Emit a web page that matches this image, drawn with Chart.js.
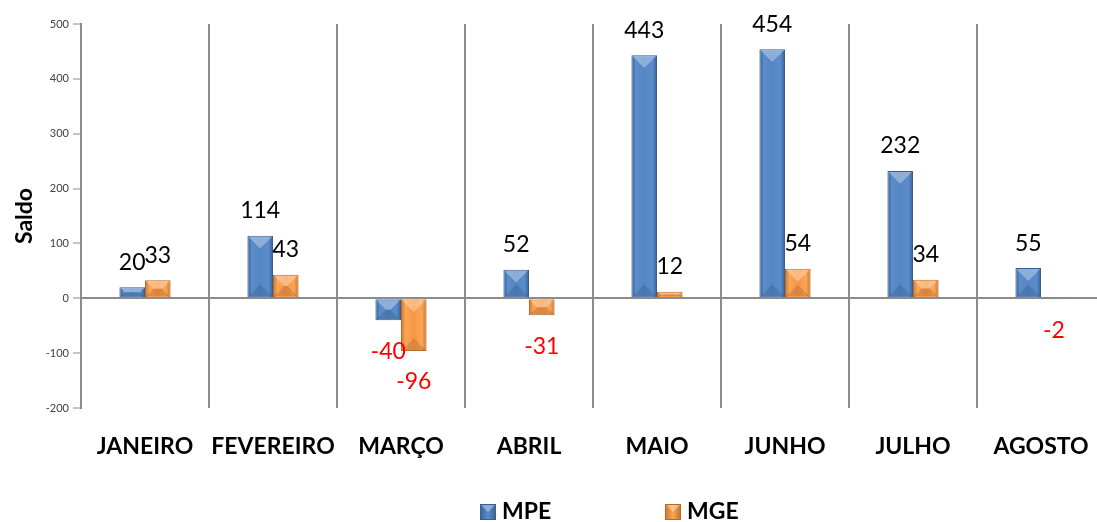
<!DOCTYPE html>
<html>
<head>
<meta charset="utf-8">
<script src="https://cdn.jsdelivr.net/npm/chart.js@4.4.1/dist/chart.umd.min.js"></script>
<style>
  html, body { margin: 0; padding: 0; background: #fff; overflow: hidden; }
  #wrap { width: 1114px; height: 522px; position: relative; }
</style>
</head>
<body>
<div id="wrap"><canvas id="saldoChart"></canvas></div>
<script>
const months = ["JANEIRO", "FEVEREIRO", "MARÇO", "ABRIL", "MAIO", "JUNHO", "JULHO", "AGOSTO"];
const mpeValues = [20, 114, -40, 52, 443, 454, 232, 55];
const mgeValues = [33, 43, -96, -31, 12, 54, 34, -2];
const yTicks = [-200, -100, 0, 100, 200, 300, 400, 500];

const FONT = "Lato, 'Open Sans', sans-serif";
const GRID = "#8c8c8c";

const palette = {
  MPE: { stops: ["#3a6398", "#5b8dcc", "#5586c3", "#5b8dcc", "#3a6196"], border: "#3a5f8f" },
  MGE: { stops: ["#d0772c", "#fba656", "#f79646", "#fba656", "#c96f25"], border: "#b46a2b" },
};

function barFill(key) {
  return (ctx) => {
    const chart = ctx.chart;
    const xs = chart.scales.x;
    const s = palette[key].stops;
    if (!xs || ctx.dataIndex === undefined) return s[2];
    const slot = xs.width / months.length * 0.4 / 2;
    const center = xs.getPixelForValue(ctx.dataIndex) + (ctx.datasetIndex === 0 ? -slot / 2 : slot / 2);
    if (!isFinite(center) || !isFinite(slot) || slot <= 0) return s[2];
    const g = chart.ctx.createLinearGradient(center - slot / 2, 0, center + slot / 2, 0);
    g.addColorStop(0, s[0]);
    g.addColorStop(0.18, s[1]);
    g.addColorStop(0.5, s[2]);
    g.addColorStop(0.82, s[3]);
    g.addColorStop(1, s[4]);
    return g;
  };
}

// light/dark end caps give the bevelled look of the original bars
const bevel = {
  id: "bevel",
  afterDatasetsDraw(chart) {
    const { ctx } = chart;
    ctx.save();
    chart.data.datasets.forEach((ds, di) => {
      chart.getDatasetMeta(di).data.forEach((bar) => {
        const half = bar.width / 2 - 1;
        const top = Math.min(bar.y, bar.base) + 1;
        const bottom = Math.max(bar.y, bar.base) - 1;
        const h = bottom - top;
        if (h < 2) return;
        const d = Math.min(half, h / 2);
        ctx.beginPath();
        ctx.moveTo(bar.x - half, top);
        ctx.lineTo(bar.x + half, top);
        ctx.lineTo(bar.x + half - d, top + d);
        ctx.lineTo(bar.x - half + d, top + d);
        ctx.closePath();
        ctx.fillStyle = "rgba(255,255,255,0.32)";
        ctx.fill();
        ctx.beginPath();
        ctx.moveTo(bar.x - half, bottom);
        ctx.lineTo(bar.x + half, bottom);
        ctx.lineTo(bar.x + half - d, bottom - d);
        ctx.lineTo(bar.x - half + d, bottom - d);
        ctx.closePath();
        ctx.fillStyle = "rgba(0,0,0,0.12)";
        ctx.fill();
      });
    });
    ctx.restore();
  },
};

const valueLabels = {
  id: "valueLabels",
  afterDatasetsDraw(chart) {
    const { ctx } = chart;
    ctx.save();
    ctx.font = "23px " + FONT;
    ctx.textAlign = "center";
    ctx.textBaseline = "middle";
    chart.data.datasets.forEach((ds, di) => {
      chart.getDatasetMeta(di).data.forEach((bar, i) => {
        const v = ds.data[i];
        if (v >= 0) {
          ctx.fillStyle = "#000";
          ctx.fillText(String(v), bar.x, bar.y - 25);
        } else {
          ctx.fillStyle = "#ff0000";
          ctx.fillText(String(v), bar.x, bar.y + 31);
        }
      });
    });
    ctx.restore();
  },
};

const bottomLegend = {
  id: "bottomLegend",
  afterDraw(chart) {
    const { ctx, chartArea } = chart;
    const mid = (chartArea.left + chartArea.right) / 2;
    const starts = [mid - 113, mid + 72];
    const y = chart.height - 10;
    ctx.save();
    ctx.font = "bold 23px " + FONT;
    ctx.textBaseline = "middle";
    ctx.textAlign = "left";
    chart.data.datasets.forEach((ds, di) => {
      const x = starts[di];
      const p = palette[ds.label];
      const g = ctx.createLinearGradient(x, 0, x + 16, 0);
      g.addColorStop(0, p.stops[0]);
      g.addColorStop(0.5, p.stops[1]);
      g.addColorStop(1, p.stops[4]);
      ctx.fillStyle = g;
      ctx.fillRect(x, y - 8, 16, 16);
      ctx.fillStyle = "rgba(255,255,255,0.35)";
      ctx.beginPath();
      ctx.moveTo(x, y - 8);
      ctx.lineTo(x + 16, y - 8);
      ctx.lineTo(x + 8, y);
      ctx.closePath();
      ctx.fill();
      ctx.strokeStyle = p.border;
      ctx.lineWidth = 1;
      ctx.strokeRect(x + 0.5, y - 7.5, 15, 15);
      ctx.fillStyle = "#000";
      ctx.fillText(ds.label, x + 22, y);
    });
    ctx.restore();
  },
};

new Chart(document.getElementById("saldoChart"), {
  type: "bar",
  data: {
    labels: months,
    datasets: [
      {
        label: "MPE",
        data: mpeValues,
        backgroundColor: barFill("MPE"),
        borderColor: palette.MPE.border,
        borderWidth: 1,
      },
      {
        label: "MGE",
        data: mgeValues,
        backgroundColor: barFill("MGE"),
        borderColor: palette.MGE.border,
        borderWidth: 1,
      },
    ],
  },
  options: {
    responsive: true,
    maintainAspectRatio: false,
    animation: false,
    barPercentage: 1,
    categoryPercentage: 0.4,
    layout: { padding: { left: 0, right: 6, top: 24, bottom: 54 } },
    plugins: {
      legend: { display: false },
      tooltip: { enabled: false },
    },
    scales: {
      x: {
        grid: { color: GRID, lineWidth: 2, drawTicks: false, offset: true },
        border: { display: false },
        ticks: {
          color: "#000",
          font: { family: FONT, size: 23, weight: "bold" },
          padding: 25,
          maxRotation: 0,
          autoSkip: false,
        },
        afterFit(scale) { scale.height = 60; },
      },
      y: {
        min: -200,
        max: 500,
        afterBuildTicks(scale) { scale.ticks = yTicks.map((v) => ({ value: v })); },
        grid: {
          color: (c) => (c.tick && c.tick.value === 0 ? GRID : "rgba(0,0,0,0)"),
          lineWidth: 2,
          tickColor: GRID,
          tickLength: 8,
          tickWidth: 1,
        },
        border: { display: true, color: GRID, width: 2 },
        ticks: {
          color: "#404040",
          font: { family: FONT, size: 11 },
          padding: 4,
        },
        title: {
          display: true,
          text: "Saldo",
          color: "#000",
          font: { family: FONT, size: 23, weight: "bold" },
          padding: { top: 11, bottom: 0 },
        },
        afterFit(scale) { scale.width = 81; },
      },
    },
  },
  plugins: [bevel, valueLabels, bottomLegend],
});
</script>
</body>
</html>
